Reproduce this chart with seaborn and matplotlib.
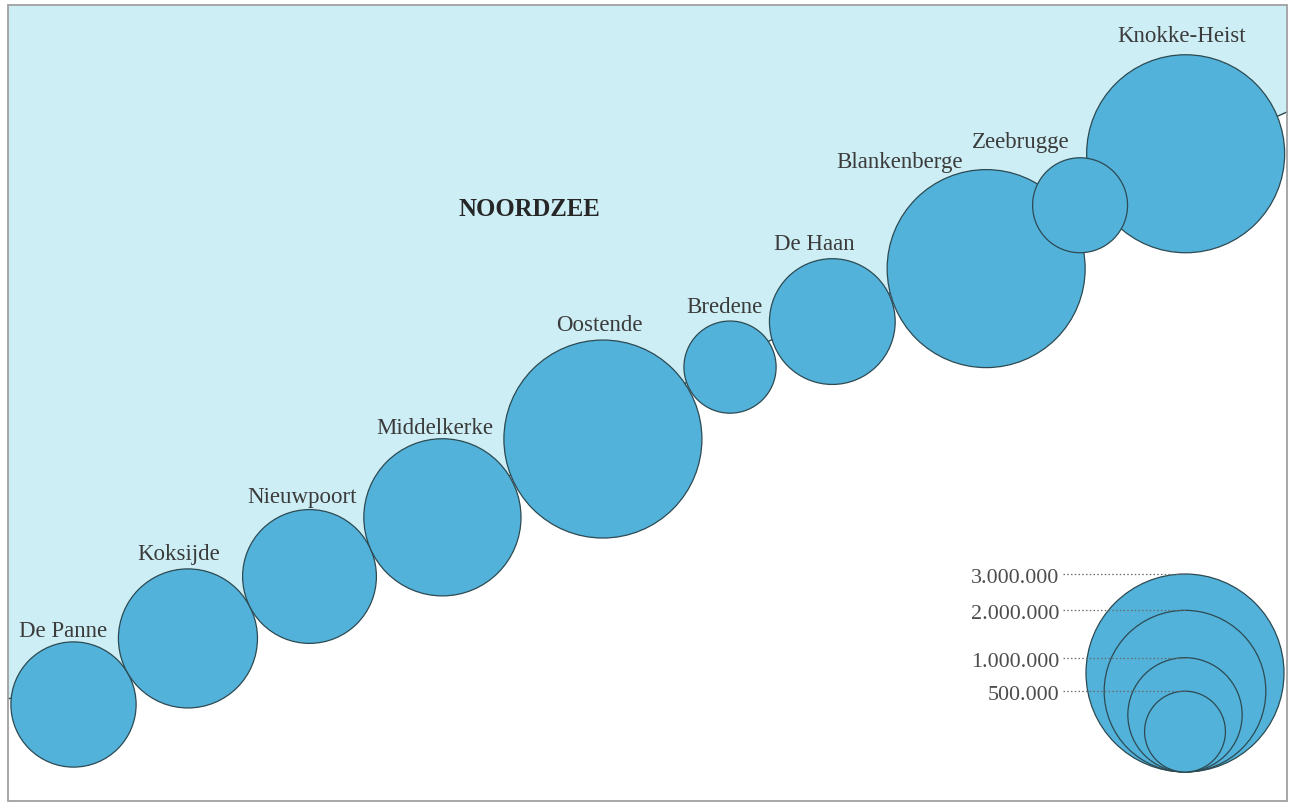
import numpy as np
import pandas as pd
import matplotlib
matplotlib.use("Agg")
import matplotlib.pyplot as plt
from matplotlib.patches import Rectangle
import seaborn as sns

# overnachtingen per kustgemeente, van west naar oost
steden = ["De Panne", "Koksijde", "Nieuwpoort", "Middelkerke", "Oostende",
          "Bredene", "De Haan", "Blankenberge", "Zeebrugge", "Knokke-Heist"]
overnachtingen = [1200000, 1480000, 1370000, 1890000, 3060000,
                  650000, 1210000, 3050000, 690000, 3310000]

# legende
legenda_waarden = [3000000, 2000000, 1000000, 500000]
legenda_labels = ["3.000.000", "2.000.000", "1.000.000", "500.000"]

# opmaak
W, H = 1293, 804
ZEE = "#cdeef5"
BOL = "#52b2da"
RAND = "#2d4a52"
TEKST = "#3b3b3b"
R_REF = 99.0          # straal in px van 3.000.000
V_REF = 3000000
START = (73.5, 705.5)  # middelpunt De Panne
HOEK = [30, 27, 24, 26, 29.5, 24, 19, 34, 26]   # richting van de kust per stap
GAT = [0, 0, 0, 0, 0, 3, 0, -34, -34]           # ruimte tussen de bollen
LABEL_DX = [-10, -9, -7, -8, -4, -6, -18, -87, -59, -4]
LABEL_GAP = [6, 10, 8, 6, 9, 9, 10, 1.5, 11, 9]
LEG_ONDER = (1185, 773)


def straal(v):
    return R_REF * np.sqrt(np.asarray(v, dtype=float) / V_REF)


def grootte(r_px):
    # scatter grootte in pt^2 bij dpi 100
    return (2 * r_px * 72 / 100) ** 2


r = straal(overnachtingen)
xs, ys = [START[0]], [START[1]]
kust = [(8, 700)]
for i, (hoek, gat) in enumerate(zip(HOEK, GAT)):
    a = np.radians(hoek)
    ux, uy = np.cos(a), -np.sin(a)
    d = r[i] + r[i + 1] + gat
    # raakpunt, iets naar de zee toe geschoven
    t = r[i] + gat / 2
    schuif = 8 if gat >= 0 else 0
    kust.append((xs[-1] + t * ux - schuif * np.sin(a),
                 ys[-1] + t * uy - schuif * np.cos(a)))
    xs.append(xs[-1] + d * ux)
    ys.append(ys[-1] + d * uy)
kust.append((1287, 113))

df = pd.DataFrame({"stad": steden, "overnachtingen": overnachtingen,
                   "x": xs, "y": ys, "r": r})
# Zeebrugge ligt bovenop de buren
volgorde = df[df["stad"] != "Zeebrugge"]
df_plot = pd.concat([volgorde, df[df["stad"] == "Zeebrugge"]])

fig = plt.figure(figsize=(W / 100, H / 100), dpi=100)
ax = fig.add_axes([0, 0, 1, 1])
ax.set_xlim(0, W)
ax.set_ylim(H, 0)
ax.axis("off")

# zee boven de kustlijn
zee = kust + [(1287, 6), (8, 6)]
ax.fill([p[0] for p in zee], [p[1] for p in zee], color=ZEE, lw=0, zorder=1)
ax.plot([p[0] for p in kust], [p[1] for p in kust], color=RAND, lw=1.0, zorder=2)

sns.scatterplot(data=df_plot, x="x", y="y", size="overnachtingen",
                sizes=(0, grootte(R_REF)), size_norm=(0, V_REF),
                color=BOL, edgecolor=RAND, linewidth=0.9, alpha=1,
                legend=False, ax=ax, zorder=3)

for i, row in df.iterrows():
    ax.text(row["x"] + LABEL_DX[i], row["y"] - row["r"] - LABEL_GAP[i], row["stad"],
            ha="center", va="baseline", fontsize=16.5, color=TEKST,
            family="Liberation Serif", zorder=5)

ax.text(529.5, 216.5, "NOORDZEE", ha="center", va="baseline", fontsize=17.8,
        fontweight="bold", color="#262626", family="Liberation Serif", zorder=5)

# legende: geneste cirkels op een gemeenschappelijke onderkant
leg = pd.DataFrame({"waarde": legenda_waarden, "label": legenda_labels})
leg["r"] = straal(leg["waarde"])
leg["x"] = LEG_ONDER[0]
leg["y"] = LEG_ONDER[1] - leg["r"]
leg = leg.sort_values("waarde", ascending=False)
sns.scatterplot(data=leg, x="x", y="y", size="waarde",
                sizes=(0, grootte(R_REF)), size_norm=(0, V_REF),
                color=BOL, edgecolor=RAND, linewidth=0.9, alpha=1,
                legend=False, ax=ax, zorder=3)
for _, row in leg.iterrows():
    top = LEG_ONDER[1] - 2 * row["r"]
    ax.plot([1063, LEG_ONDER[0]], [top, top], color="#6a6a6a", lw=0.9,
            ls=(0, (1.2, 1.8)), zorder=4)
    ax.text(1059, top + 8, row["label"], ha="right", va="baseline",
            fontsize=15.8, color="#4d4d4d", family="Liberation Serif", zorder=5)

ax.add_patch(Rectangle((8, 6), 1279, 796, fill=False, edgecolor="#a0a0a0",
                       lw=1.3, zorder=6))

fig.savefig("out.png", dpi=100)
